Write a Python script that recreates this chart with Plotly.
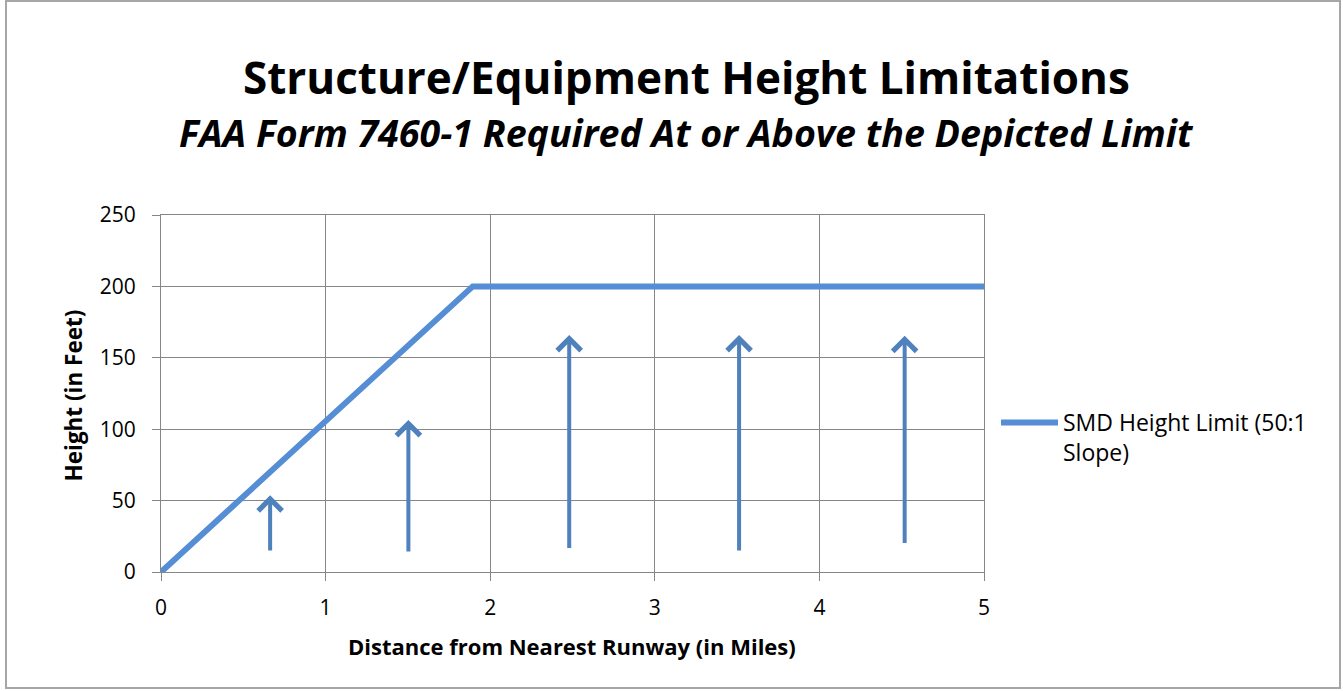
import plotly.graph_objects as go

# Data
limit_x = [0, 1.894, 5]
limit_y = [0, 200, 200]
series_name = "SMD Height Limit (50:1<br>Slope)"

arrow_x = [0.663, 1.503, 2.48, 3.512, 4.518]
arrow_tail = [14.0, 13.3, 15.7, 14.0, 19.2]
arrow_tip = [53.8, 106.4, 166.0, 166.0, 165.5]

x_ticks = [0, 1, 2, 3, 4, 5]
y_ticks = [0, 50, 100, 150, 200, 250]

title = "Structure/Equipment Height Limitations"
subtitle = "FAA Form 7460-1 Required At or Above the Depicted Limit"
x_title = "Distance from Nearest Runway (in Miles)"
y_title = "Height (in Feet)"

FONT = "Open Sans"
W, H = 1343, 691
L, R, T, B = 161, 359, 215, 119
pw, ph = W - L - R, H - T - B

def px2paper_x(px):
    return (px - L) / pw

def px2paper_y(py):
    return (H - B - py) / ph

fig = go.Figure()
fig.add_trace(go.Scatter(
    x=limit_x, y=limit_y, mode="lines", name=series_name,
    line=dict(color="#558ed5", width=6),
))

annotations = []
for x, t0, t1 in zip(arrow_x, arrow_tail, arrow_tip):
    annotations.append(dict(
        x=x, y=t1, ax=x, ay=t0, xref="x", yref="y", axref="x", ayref="y",
        showarrow=True, arrowhead=4, arrowsize=1.15, arrowwidth=4,
        arrowcolor="#4f81bd", text="", standoff=0,
    ))

annotations += [
    dict(text="<b>" + title + "</b>", x=px2paper_x(686.5), y=px2paper_y(77),
         xref="paper", yref="paper", showarrow=False, xanchor="center", yanchor="middle",
         font=dict(family=FONT, size=44, color="#000")),
    dict(text="<b><i>" + subtitle + "</i></b>", x=px2paper_x(686), y=px2paper_y(133),
         xref="paper", yref="paper", showarrow=False, xanchor="center", yanchor="middle",
         font=dict(family=FONT, size=37.6, color="#000")),
    dict(text="<b>" + x_title + "</b>", x=px2paper_x(572), y=px2paper_y(646),
         xref="paper", yref="paper", showarrow=False, xanchor="center", yanchor="middle",
         font=dict(family=FONT, size=22, color="#000")),
    dict(text="<b>" + y_title + "</b>", x=px2paper_x(72.5), y=px2paper_y(396),
         xref="paper", yref="paper", showarrow=False, xanchor="center", yanchor="middle",
         textangle=-90, font=dict(family=FONT, size=22.5, color="#000")),
]

fig.update_layout(
    width=W, height=H,
    margin=dict(l=L, r=R, t=T, b=B, pad=0),
    paper_bgcolor="white", plot_bgcolor="white",
    font=dict(family=FONT, size=21, color="#000"),
    showlegend=True,
    legend=dict(x=px2paper_x(996), y=px2paper_y(401), xanchor="left", yanchor="top",
                font=dict(family=FONT, size=23, color="#000"),
                itemwidth=57, valign="top", bgcolor="rgba(0,0,0,0)",
                tracegroupgap=0),
    annotations=annotations,
    shapes=[dict(type="rect", xref="paper", yref="paper",
                 x0=px2paper_x(6), x1=px2paper_x(1340), y0=px2paper_y(688), y1=px2paper_y(1),
                 line=dict(color="#a6a6a6", width=2), layer="below")],
)

fig.update_xaxes(
    range=[0, 5], tickvals=x_ticks, ticktext=[str(v) for v in x_ticks],
    showgrid=True, gridcolor="#868686", gridwidth=1,
    showline=True, linecolor="#868686", linewidth=1, mirror=True,
    ticks="outside", ticklen=8, tickcolor="#868686", ticklabelstandoff=9,
    zeroline=False, tickfont=dict(family=FONT, size=21, color="#000"),
)
fig.update_yaxes(
    range=[0, 250], tickvals=y_ticks, ticktext=[str(v) for v in y_ticks],
    showgrid=True, gridcolor="#868686", gridwidth=1,
    showline=True, linecolor="#868686", linewidth=1, mirror=True,
    ticks="outside", ticklen=8, tickcolor="#868686", ticklabelstandoff=12,
    zeroline=False, tickfont=dict(family=FONT, size=21, color="#000"),
)

fig.write_html("out.html", config={"displayModeBar": False},
               post_script="document.body.style.margin='0';")
